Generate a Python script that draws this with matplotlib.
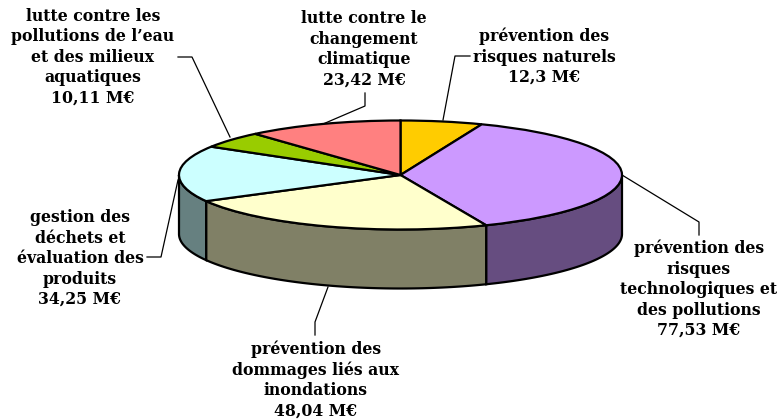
import numpy as np
from matplotlib import pyplot as plt
from matplotlib.patches import Polygon

names = [["prévention des", "risques naturels"],
         ["prévention des", "risques", "technologiques et", "des pollutions"],
         ["prévention des", "dommages liés aux", "inondations"],
         ["gestion des", "déchets et", "évaluation des", "produits"],
         ["lutte contre les", "pollutions de l’eau", "et des milieux", "aquatiques"],
         ["lutte contre le", "changement", "climatique"]]
values = [12.3, 77.53, 48.04, 34.25, 10.11, 23.42]
value_labels = ["12,3 M€", "77,53 M€", "48,04 M€", "34,25 M€", "10,11 M€", "23,42 M€"]
top_colors = ["#FFCC00", "#CC99FF", "#FFFFCC", "#CCFFFF", "#99CC00", "#FF8080"]
side_colors = ["#806600", "#664D80", "#808066", "#668080", "#4D6600", "#804040"]

# pixel positions of the labels (centre x, baseline of first line)
label_pos = [(544, 41), (699, 253), (316, 354), (80, 222), (93, 21), (364, 23)]
line_step = 20.5
leaders = [[(443, 120), (455, 56), (470, 56)],
           [(622, 175), (699, 222), (699, 235)],
           [(328, 287), (315, 322), (315, 335)],
           [(178, 180), (161, 257), (147, 257)],
           [(230, 137), (192, 57), (178, 57)],
           [(323, 124), (365, 106), (365, 93)]]

cx, cy, rx, ry, depth = 400.5, 175, 221.5, 54.5, 59

fig = plt.figure(figsize=(7.81, 4.19), dpi=100)
ax = fig.add_axes([0, 0, 1, 1])

# pie is drawn on a unit circle, the axes limits squash it to an ellipse
def px(x):
    return (x - cx) / rx

def py(y):
    return (cy - y) / ry

angles = np.cumsum([0] + values) / sum(values) * 360

# side of the disc, only the front half shows
for i in range(len(values)):
    a = max(angles[i], 90)
    b = min(angles[i + 1], 270)
    if a >= b:
        continue
    t = np.radians(np.linspace(a, b, 80))
    x = np.sin(t)
    y = np.cos(t)
    d = depth / ry
    pts = np.column_stack([np.r_[x, x[::-1]], np.r_[y, y[::-1] - d]])
    ax.add_patch(Polygon(pts, facecolor=side_colors[i], edgecolor="black", linewidth=1.6, zorder=1))

wedges, _ = ax.pie(values, colors=top_colors, startangle=90, counterclock=False, radius=1,
                   wedgeprops={"edgecolor": "black", "linewidth": 1.6, "zorder": 2})

for line in leaders:
    xs = [px(p[0]) for p in line]
    ys = [py(p[1]) for p in line]
    ax.plot(xs, ys, color="black", linewidth=0.9, zorder=0)

# one text per line so the line step is exact
for i in range(len(names)):
    lx, ly = label_pos[i]
    for j, s in enumerate(names[i] + [value_labels[i]]):
        ax.text(px(lx), py(ly + j * line_step), s, ha="center", va="baseline",
                family="DejaVu Serif", fontweight="bold", fontsize=11.3, color="black")

ax.set_aspect("auto")
ax.set_xlim(px(0), px(781))
ax.set_ylim(py(419), py(0))
ax.axis("off")

fig.savefig("out.png", dpi=100)
